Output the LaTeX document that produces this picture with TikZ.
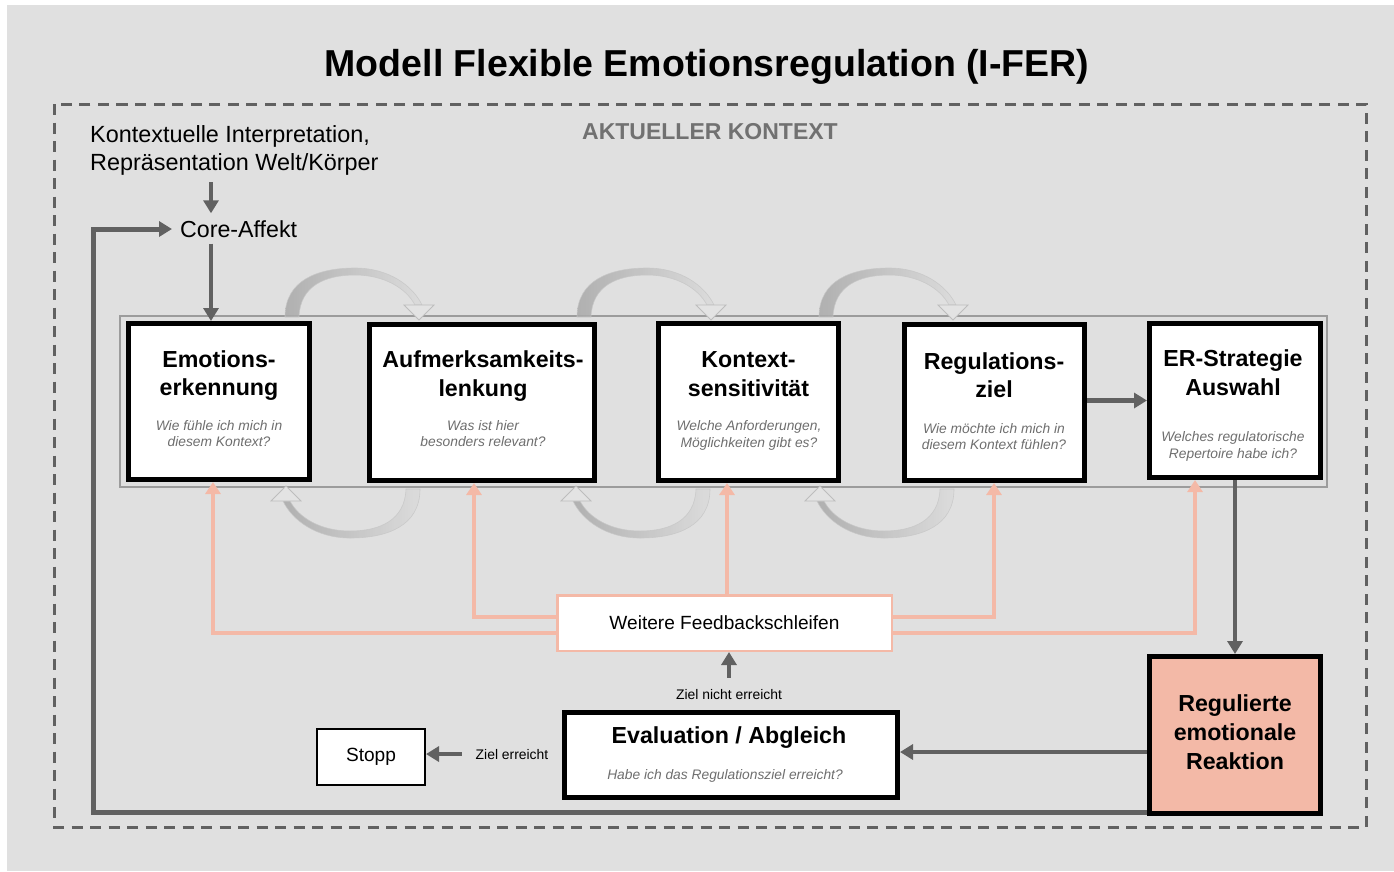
\documentclass[tikz,border=0pt]{standalone}
\usepackage{fontspec}
\setmainfont{Liberation Sans}
\usetikzlibrary{arrows.meta}
\definecolor{bggray}{HTML}{E0E0E0}
\definecolor{darkg}{HTML}{616161}
\definecolor{salmon}{HTML}{F4B9A7}
\definecolor{salmonfill}{HTML}{F3B9A7}
\definecolor{subg}{HTML}{6E6E6E}
\definecolor{bandg}{HTML}{9C9C9C}
\definecolor{ctxg}{HTML}{717171}

\tikzset{
  % grey ribbon arrow that loops over from one stage to the next
  loopcurve/.pic={
    \shade[left color=black!34,right color=black!14,draw=black!22,line width=0.6pt,opacity=0.85]
      (-7,1) .. controls (-7,-36) and (26,-48) .. (63,-48)
      .. controls (97,-48) and (121,-30) .. (130,-11)
      -- (123,-11)
      .. controls (114,-28) and (92,-41) .. (63,-41)
      .. controls (33,-41) and (8,-30) .. (7,1) -- cycle;
    \filldraw[fill=black!11,draw=black!26,line width=0.8pt]
      (112,-11) -- (142,-11) -- (127,4) -- cycle;
  }
}

\begin{document}
\begin{tikzpicture}[x=1pt,y=-1pt,
  stagebox/.style={draw=black,line width=5pt,fill=white,inner sep=0pt},
  ttl/.style={font=\fontsize{23.2}{28.8}\selectfont\bfseries,align=center,inner sep=0pt,anchor=base},
  subq/.style={font=\fontsize{13.8}{16.6}\selectfont\itshape,text=subg,align=center,inner sep=0pt,anchor=base},
  plain/.style={inner sep=0pt,anchor=base},
  small/.style={plain,font=\fontsize{13.9}{16}\selectfont},
  darr/.style={draw=darkg,line width=4.5pt,-{Triangle[length=13pt,width=15pt]}},
  sarr/.style={draw=salmon,line width=4.5pt,-{Triangle[length=12pt,width=15pt]}},
]
% canvas
\path[use as bounding box] (0,0) rectangle (1394,871);
\fill[white] (0,0) rectangle (1394,871);
\fill[bggray] (7,5) rectangle (1394,871);

% heading and context frame
\node[plain,font=\fontsize{37.5}{45}\selectfont\bfseries] (title) at (707,76) {Modell Flexible Emotionsregulation (I-FER)};
\draw[darkg,line width=3pt,dash pattern=on 11pt off 7.5pt] (54.5,104) rectangle (1366,827);
\node[plain,font=\fontsize{23}{28}\selectfont\bfseries,text=ctxg] (akt) at (710,139.3) {AKTUELLER KONTEXT};

% multi-line nodes below are placed by the baseline of their last line
\node[plain,anchor=base west,align=left,font=\fontsize{23.4}{27.4}\selectfont] (ctx) at (90,170.1)
  {Kontextuelle Interpretation,\\Repräsentation Welt/Körper};
\node[plain,anchor=base west,font=\fontsize{23.2}{28}\selectfont] (core) at (180,237.3) {Core-Affekt};

% band holding the five stages
\draw[bandg,line width=2pt] (120,316) rectangle (1327,487);

% looping ribbons between the stages
\pic at (292,316) {loopcurve};
\pic at (584,316) {loopcurve};
\pic at (826,316) {loopcurve};
\pic[rotate=180] at (413,490) {loopcurve};
\pic[rotate=180] at (703,490) {loopcurve};
\pic[rotate=180] at (947,490) {loopcurve};

% stages
\node[stagebox,minimum width=181pt,minimum height=156pt] (b1) at (219,401.5) {};
\node[ttl] (t1) at (219,395.8) {Emotions-\\erkennung};
\node[subq] (q1) at (219,446.6) {Wie fühle ich mich in\\diesem Kontext?};

\node[stagebox,minimum width=225pt,minimum height=156pt] (b2) at (482,402.5) {};
\node[ttl] (t2) at (483,396.1) {Aufmerksamkeits-\\lenkung};
\node[subq] (q2) at (483,446.6) {Was ist hier\\besonders relevant?};

\node[stagebox,minimum width=180pt,minimum height=157pt] (b3) at (748.5,402) {};
\node[ttl] (t3) at (748.5,396.1) {Kontext-\\sensitivität};
\node[subq] (q3) at (749,447.3) {Welche Anforderungen,\\Möglichkeiten gibt es?};

\node[stagebox,minimum width=180pt,minimum height=156pt] (b4) at (994.5,402.5) {};
\node[ttl] (t4) at (994,397.8) {Regulations-\\ziel};
\node[subq] (q4) at (994,449.9) {Wie möchte ich mich in\\diesem Kontext fühlen?};

\node[stagebox,minimum width=171pt,minimum height=154pt] (b5) at (1235,400.5) {};
\node[ttl] (t5) at (1233,395.5) {ER-Strategie\\Auswahl};
\node[subq] (q5) at (1233,458.3) {Welches regulatorische\\Repertoire habe ich?};

% outcome, evaluation, stop
\node[stagebox,fill=salmonfill,minimum width=171pt,minimum height=157pt] (reg) at (1235,735) {};
\node[ttl] (treg) at (1235,769.3) {Regulierte\\emotionale\\Reaktion};

\node[stagebox,minimum width=333pt,minimum height=85pt] (eval) at (731,755) {};
\node[plain,font=\fontsize{23.2}{28}\selectfont\bfseries] (teval) at (729,743.3) {Evaluation / Abgleich};
\node[subq] (qeval) at (725,779) {Habe ich das Regulationsziel erreicht?};

\node[draw=black,line width=2pt,fill=white,minimum width=108pt,minimum height=56pt,inner sep=0pt,
  font=\fontsize{19.1}{23}\selectfont] (stopp) at (371,756.5) {Stopp};

\node[draw=salmon,line width=2.5pt,fill=white,minimum width=334.5pt,minimum height=55.5pt,inner sep=0pt,
  font=\fontsize{19.1}{23}\selectfont] (fb) at (724.5,623) {Weitere Feedbackschleifen};

\node[small] (zn) at (729,699) {Ziel nicht erreicht};
\node[small] (ze) at (512,759) {Ziel erreicht};

% feedback connectors
\coordinate (f1) at (213,633);
\coordinate (f2) at (474,617);
\coordinate (f3) at (727,0);
\coordinate (f4) at (994,617);
\coordinate (f5) at (1195,633);
\draw[sarr] (fb.west |- f1) -| (f1 |- b1.south);
\draw[sarr] (fb.west |- f2) -| (f2 |- b2.south);
\draw[sarr] (fb.north -| f3) -- (f3 |- b3.south);
\draw[sarr] (fb.east |- f4) -| (f4 |- b4.south);
\draw[sarr] (fb.east |- f5) -| (f5 |- b5.south);

% main flow
\coordinate (ax) at (211,0);
\coordinate (lp) at (93,812);
\coordinate (ev) at (0,752);
\draw[darr,shorten <=7pt,shorten >=7pt] (ctx.south -| ax) -- (core.north -| ax);
\draw[darr,shorten <=6pt] (core.south -| ax) -- (b1.north -| ax);
\draw[darr] (b4.east |- b5.west) -- (b5.west);
\draw[darr] (b5.south) -- (reg.north);
\draw[darr] (reg.west |- ev) -- (eval.east |- ev);
\draw[darr,shorten <=11pt] (zn.north) -- (zn.north |- fb.south);
\draw[darr,shorten <=14pt] (ze.west) -- (ze.west -| stopp.east);
\draw[darr,line width=5pt,shorten >=8pt] (lp -| reg.west) -- (lp) |- (core.west);
\end{tikzpicture}
\end{document}
